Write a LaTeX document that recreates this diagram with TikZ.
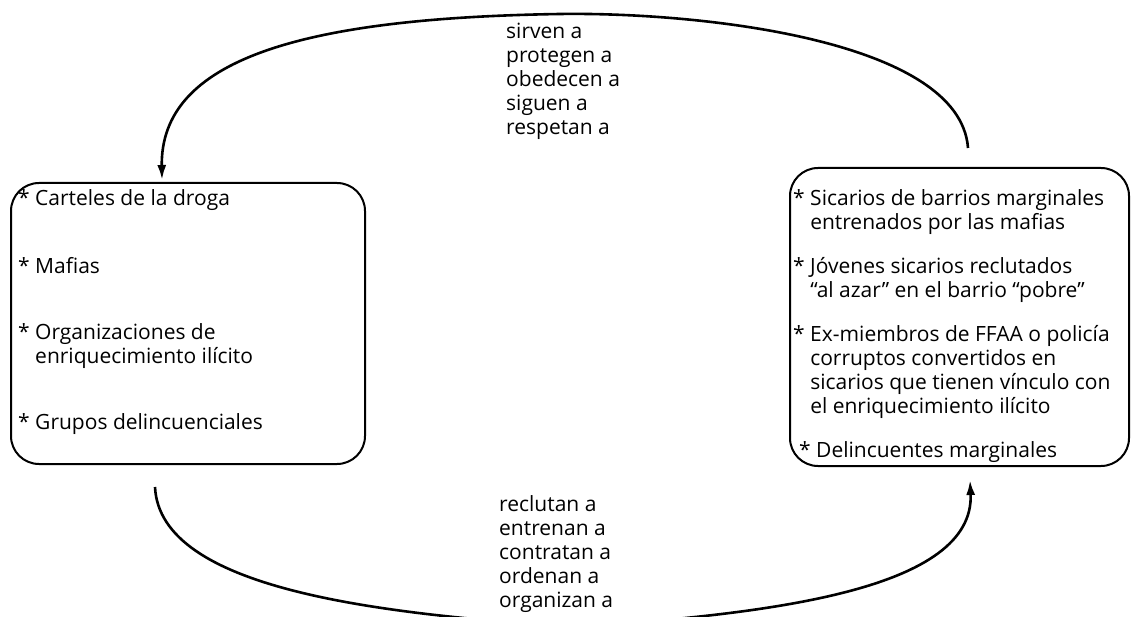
\documentclass[tikz,border=0pt]{standalone}
\usepackage{fontspec}
\setmainfont{Open Sans}
\usetikzlibrary{arrows.meta}
\begin{document}
\begin{tikzpicture}[x=1pt,y=-1pt,
  box/.style={draw, line width=2pt, rounded corners=28pt, inner sep=0pt},
  txt/.style={font=\fontsize{21}{24}\selectfont, inner sep=0pt, anchor=base west, align=left},
  conn/.style={line width=2.6pt},
  tip/.style={-{Latex[length=15pt,width=9pt]}}]
\clip (0,0) rectangle (1131,617);
\node[box, minimum width=354pt, minimum height=281pt, anchor=north west] (lbox) at (10,182) {};
\node[box, minimum width=339pt, minimum height=298pt, anchor=north west] (rbox) at (789,167) {};
% left box texts (multi-line nodes: base = baseline of last line)
\node[txt] (l1) at (18,206) {* Carteles de la droga};
\node[txt] (l2) at (18,274) {* Mafias};
\node[txt] (l3) at (18,363) {* Organizaciones de\\\hphantom{*\ }enriquecimiento ilícito};
\node[txt] (l4) at (18,429) {* Grupos delincuenciales};
% right box texts
\node[txt] (r1) at (793,230) {* Sicarios de barrios marginales\\\hphantom{*\ }entrenados por las mafias};
\node[txt] (r2) at (793,298) {* Jóvenes sicarios reclutados\\\hphantom{*\ }“al azar” en el barrio “pobre”};
\node[txt] (r3) at (793,413) {* Ex-miembros de FFAA o policía\\\hphantom{*\ }corruptos convertidos en\\\hphantom{*\ }sicarios que tienen vínculo con\\\hphantom{*\ }el enriquecimiento ilícito};
\node[txt] (r4) at (799,457) {* Delincuentes marginales};
% connector labels
\node[txt] (top) at (506,135) {sirven a\\protegen a\\obedecen a\\siguen a\\respetan a};
\node[txt] (bot) at (499,607) {reclutan a\\entrenan a\\contratan a\\ordenan a\\organizan a};
% connectors
\coordinate (tstart) at (968,148);
\coordinate (ttip) at (162,180);
\draw[conn,tip] (tstart) .. controls (960,40) and (700,12) .. (560,14) .. controls (300,18) and (160,60) .. (ttip);
\coordinate (bstart) at (155,487);
\coordinate (btip) at (970,480);
\draw[conn,tip] (bstart) .. controls (160,590) and (380,614) .. (575,627) .. controls (770,614) and (975,590) .. (btip);
\end{tikzpicture}
\end{document}
